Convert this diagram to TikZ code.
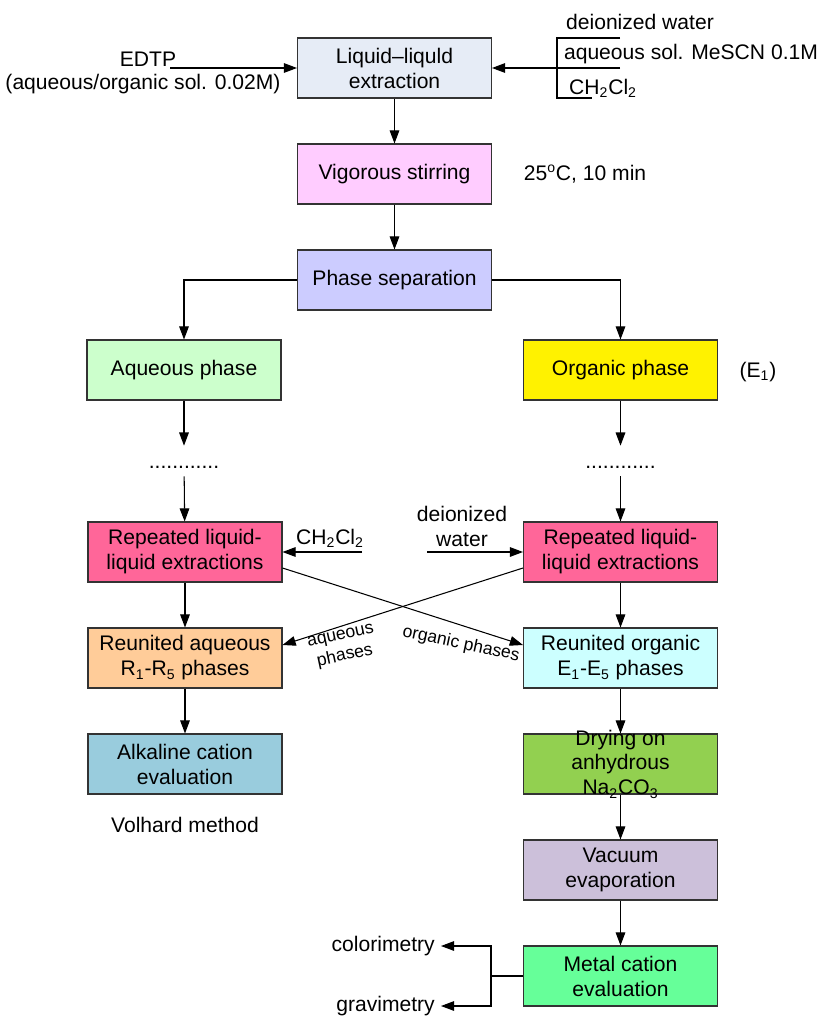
\documentclass[tikz,border=0pt]{standalone}
\usepackage{fontspec}
\setmainfont{Liberation Sans}
\usetikzlibrary{arrows.meta,calc}
\definecolor{liqblue}{RGB}{230,236,246}
\definecolor{stirpink}{RGB}{255,204,255}
\definecolor{seplav}{RGB}{204,204,255}
\definecolor{aqgreen}{RGB}{204,255,204}
\definecolor{reppink}{RGB}{255,102,153}
\definecolor{reuorange}{RGB}{255,204,153}
\definecolor{reucyan}{RGB}{204,255,255}
\definecolor{alkblue}{RGB}{153,204,221}
\definecolor{drygreen}{RGB}{146,208,80}
\definecolor{vacgrey}{RGB}{204,192,218}
\definecolor{metgreen}{RGB}{102,255,153}

\begin{document}
\begin{tikzpicture}[x=0.02cm,y=-0.02cm,>={Triangle[length=7.5pt,width=5.5pt]},
  font=\fontsize{12}{14.2}\selectfont,
  procbox/.style={draw=black!80,line width=0.6pt,minimum width=3.88cm,minimum height=1.2cm,align=center,inner sep=2pt},
  flow/.style={->,line width=0.6pt},
  dotsbox/.style={anchor=base,inner sep=0pt,text height=0.44cm,text depth=0.16cm},
  smalltext/.style={font=\fontsize{10}{12}\selectfont,align=center}]
\useasboundingbox (0,0) rectangle (821,1017);

% main column
\node[procbox,fill=liqblue] (liq) at (394.5,68) {Liquid–liquld\\extraction};
\node[procbox,fill=stirpink] (stir) at (394.5,174) {Vigorous stirring};
\node[procbox,fill=seplav] (sep) at (394.5,280) {Phase separation};
\node[procbox,fill=aqgreen] (aq) at (184,370) {Aqueous phase};
\node[procbox,fill=yellow] (org) at (620.5,370) {Organic phase};
\node[dotsbox] (aqdots) at (184,468) {............};
\node[dotsbox] (orgdots) at (620.5,468) {............};
\node[procbox,fill=reppink] (repL) at (185,552) {Repeated liquid-\\liquid extractions};
\node[procbox,fill=reppink] (repR) at (620.5,552) {Repeated liquid-\\liquid extractions};
\node[procbox,fill=reuorange] (reuL) at (185,658) {Reunited aqueous\\R\textsubscript{1}-R\textsubscript{5} phases};
\node[procbox,fill=reucyan] (reuR) at (620.5,658) {Reunited organic\\E\textsubscript{1}-E\textsubscript{5} phases};
\node[procbox,fill=alkblue] (alk) at (185,764) {Alkaline cation\\evaluation};
\node[procbox,fill=drygreen] (dry) at (620.5,764) {};
\node[align=center] (drytxt) at (dry.center) {Drying on\\anhydrous\\Na\textsubscript{2}CO\textsubscript{3}};
\node[procbox,fill=vacgrey] (vac) at (620.5,870) {Vacuum\\evaporation};
\node[procbox,fill=metgreen] (met) at (620.5,976) {Metal cation\\evaluation};

% side texts
\node (edtp) at (148,59) {EDTP};
\node (edtpsol) at (143,84) {(aqueous/organic sol. 0.02M)};
\node (dwtop) at (640,22) {deionized water};
\node (mescn) at (691,54) {aqueous sol. MeSCN 0.1M};
\node (chtop) at (603,88) {CH\textsubscript{2}Cl\textsubscript{2}};
\node (temp) at (585,174) {25\textsuperscript{o}C, 10 min};
\node (e1) at (758,372) {(E\textsubscript{1})};
\node (chlab) at (330,538) {CH\textsubscript{2}Cl\textsubscript{2}};
\node[align=center] (dwlab) at (462,526) {deionized\\water};
\node[smalltext,rotate=12] (aqlab) at (343,647) {aqueous\\phases};
\node[smalltext,rotate=-12] (orglab) at (461,644) {organic phases};
\node (volh) at (185,825) {Volhard method};
\node[anchor=east] (colo) at (441,946) {colorimetry};
\node[anchor=east] (gravi) at (441,1006) {gravimetry};

% inputs at the top
\coordinate (edtpin) at (170,68);
\draw[flow] (edtpin) -- (liq.west);
\coordinate (brA) at (620,38);
\coordinate (brB) at (557,38);
\coordinate (brC) at (557,98);
\coordinate (brD) at (592,98);
\draw[line width=0.6pt] (brA) -- (brB) -- (brC) -- (brD);
\coordinate (brin) at (620,68);
\draw[flow] (brin) -- (liq.east);

% flow
\draw[flow] (liq) -- (stir);
\draw[flow] (stir) -- (sep);
\draw[flow] (sep.west) -| (aq.north);
\draw[flow] (sep.east) -| (org.north);
\draw[flow] (aq) -- (aqdots);
\draw[flow] (org) -- (orgdots);
\draw[flow] (aqdots) -- (repL);
\draw[flow] (orgdots) -- (repR);
\coordinate (chin) at (362,552);
\draw[flow] (chin) -- (repL.east);
\coordinate (dwin) at (427,552);
\draw[flow] (dwin) -- (repR.west);
\draw[flow] (repL) -- (reuL);
\draw[flow] (repR) -- (reuR);
\draw[flow] ($(repL.east)+(0,16)$) -- ($(reuR.west)+(0,-13)$);
\draw[flow] ($(repR.west)+(0,16)$) -- ($(reuL.east)+(0,-13)$);
\draw[flow] (reuL) -- (alk);
\draw[flow] (reuR) -- (dry);
\draw[flow] (dry) -- (vac);
\draw[flow] (vac) -- (met);
\draw[line width=0.6pt] (met.west) -- ++(-32,0) coordinate (metfork);
\draw[flow] (metfork) |- (colo.east);
\draw[flow] (metfork) |- (gravi.east);
\end{tikzpicture}
\end{document}
